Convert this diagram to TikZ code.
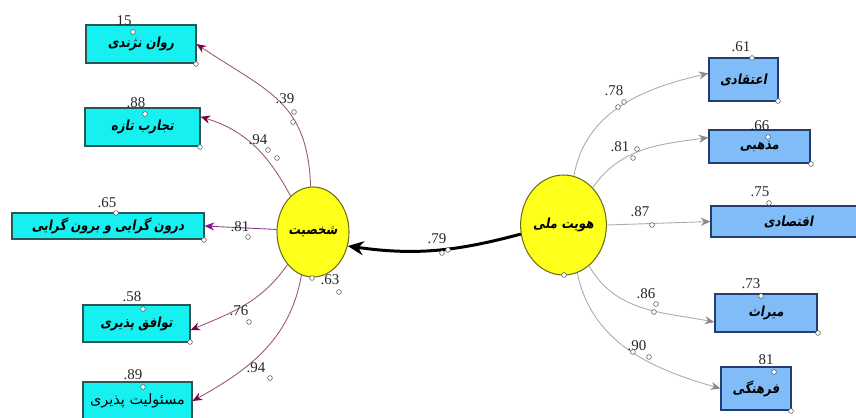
\documentclass[tikz,border=0pt]{standalone}
\usepackage{fontspec}
\setmainfont{Liberation Serif}
\newfontfamily\farsi[Script=Arabic,FakeStretch=0.85,BoldFeatures={FakeSlant=0.18}]{DejaVu Sans}
\newfontfamily\farsiplain[Script=Arabic]{DejaVu Sans}
\TeXXeTstate=1
\usetikzlibrary{arrows.meta,shapes.geometric}
\definecolor{BoxCyan}{HTML}{16F0F0}
\definecolor{CyanEdge}{HTML}{2A5656}
\definecolor{BoxBlue}{HTML}{80BDF8}
\definecolor{BlueEdge}{HTML}{223E70}
\definecolor{LatYellow}{HTML}{FFFF1C}
\definecolor{LatEdge}{HTML}{6E6E1A}
\definecolor{LoadMauve}{HTML}{9A557E}
\definecolor{TipMaroon}{HTML}{780844}
\definecolor{LoadPurple}{HTML}{8E3C8E}
\definecolor{TipPurple}{HTML}{8A108A}
\definecolor{LoadGray}{HTML}{ABABAB}
\definecolor{TipGray}{HTML}{8A8A8A}

\begin{document}
\begin{tikzpicture}[x=0.02cm,y=0.02cm,
    leftbox/.style={draw=CyanEdge,fill=BoxCyan,line width=0.6pt,inner sep=0pt,
      font=\farsi\bfseries\fontsize{7.9}{9}\selectfont},
    rightbox/.style={draw=BlueEdge,fill=BoxBlue,line width=0.6pt,inner sep=0pt,
      font=\farsi\bfseries\fontsize{7.9}{9}\selectfont},
    latent/.style={ellipse,draw=LatEdge,fill=LatYellow,line width=0.6pt,inner sep=0pt,
      font=\farsi\bfseries\fontsize{7.9}{9}\selectfont},
    coef/.style={inner sep=0pt,text=black!85,font=\fontsize{8.5}{10}\selectfont},
    loadleft/.style={draw=LoadMauve,line width=0.5pt,
      -{Stealth[length=5.5pt,width=4.6pt,color=TipMaroon]}},
    loadright/.style={draw=LoadGray,line width=0.5pt,
      -{Stealth[length=5.5pt,width=4.6pt,color=TipGray]}},
    handle/.style={draw=black!70,fill=white,line width=0.3pt}]
  \useasboundingbox (0,0) rectangle (856,417);

  % latent variables
  \node[latent,minimum width=72*0.02cm,minimum height=90*0.02cm] (pers) at (313,185)
    {\beginR شخصیت\endR};
  \node[latent,minimum width=77*0.02cm,minimum height=100*0.02cm] (nid) at (563.5,192)
    {\beginR هویت ملی\endR};

  % observed variables
  \foreach \nm/\x/\y/\w/\h/\txt in {l1/141/373/110/38/{روان نژندی},
      l2/142.5/290/115/38/{تجارب تازه},l3/108/191/192/26/{درون گرایی و برون گرایی},
      l4/136.5/93.5/107/37/{توافق پذیری}} {
    \node[leftbox,minimum width=\w*0.02cm,minimum height=\h*0.02cm] (\nm) at (\x,\y)
      {\beginR\txt\endR};
  }
  \node[leftbox,minimum width=109*0.02cm,minimum height=38*0.02cm,
        font=\farsiplain\fontsize{8.2}{10}\selectfont] (l5) at (137.5,16)
    {\beginR مسئولیت پذیری\endR};
  \foreach \nm/\x/\y/\w/\h/\txt in {r1/743.5/337.5/69/43/{اعتقادی},
      r2/759.5/270.5/101/33/{مذهبی},r3/788.5/195.5/155/31/{اقتصادی},
      r4/766/104/102/38/{میراث},r5/756/28.5/70/43/{فرهنگی}} {
    \node[rightbox,minimum width=\w*0.02cm,minimum height=\h*0.02cm] (\nm) at (\x,\y)
      {\beginR\txt\endR};
  }

  % loadings
  \draw[loadleft] (pers.93) to[out=92,in=-34,looseness=1.2] (l1.east);
  \draw[loadleft] (pers.122) to[out=118,in=-17] (l2.10);
  \draw[loadleft,draw=LoadPurple,-{Stealth[length=5.5pt,width=4.6pt,color=TipPurple]}]
    (pers.176) -- (l3.east);
  \draw[loadleft] (pers.232) to[out=235,in=23] (l4.-7);
  \draw[loadleft] (pers.255) to[out=260,in=29] (l5.east);

  \draw[loadright] (nid.78) to[out=80,in=193] (r1.170);
  \draw[loadright] (nid.52) to[out=55,in=188] (r2.170);
  \draw[loadright] (nid.east) -- (r3.west);
  \draw[loadright] (nid.-58) to[out=-60,in=169] (r4.190);
  \draw[loadright] (nid.-74) to[out=-78,in=164] (r5.west);

  \draw[line width=1.7pt,-{Stealth[length=9pt,width=8pt]}]
    (nid.192) to[out=195,in=-8] (pers.-22);

  % coefficients
  \foreach \nm/\x/\y/\t in {v1/124/396/15,v2/136/314/.88,v3/107/214/.65,v4/132/120/.58,
      v5/133/42/.89,b1/285/318/.39,b2/258/277/.94,b3/240/190/.81,b4/239/106/.76,
      b5/256/49/.94,d1/330/137/.63,g1/437/178/.79,v6/741/370/.61,v7/760/291/.66,
      v8/760/225/.75,v9/751/133/.73,v10/766/57/81,c1/614/326/.78,c2/620/270/.81,
      c3/640/205/.87,c4/646/123/.86,c5/637/71/.90} {
    \node[coef] (\nm) at (\x,\y) {\t};
  }

  % handles
  \foreach \x/\y in {133/385,145/303,116/204,143/108,143/30,196/353,200/270,204/177,
      190/75,294/305,293/295,268/267,277/259,248/180,249/95,270/39,312/139,339/125,
      442/164,448/167,752/359,768/280,769/214,761/121,774/45,778/316,811/253,818/84,
      791/6,564/142,618/310,624/315,637/268,633/259,652/192,656/113,654/105,633/65,
      649/60} {
    \draw[handle] (\x,\y) circle (2.4);
  }
\end{tikzpicture}
\end{document}
